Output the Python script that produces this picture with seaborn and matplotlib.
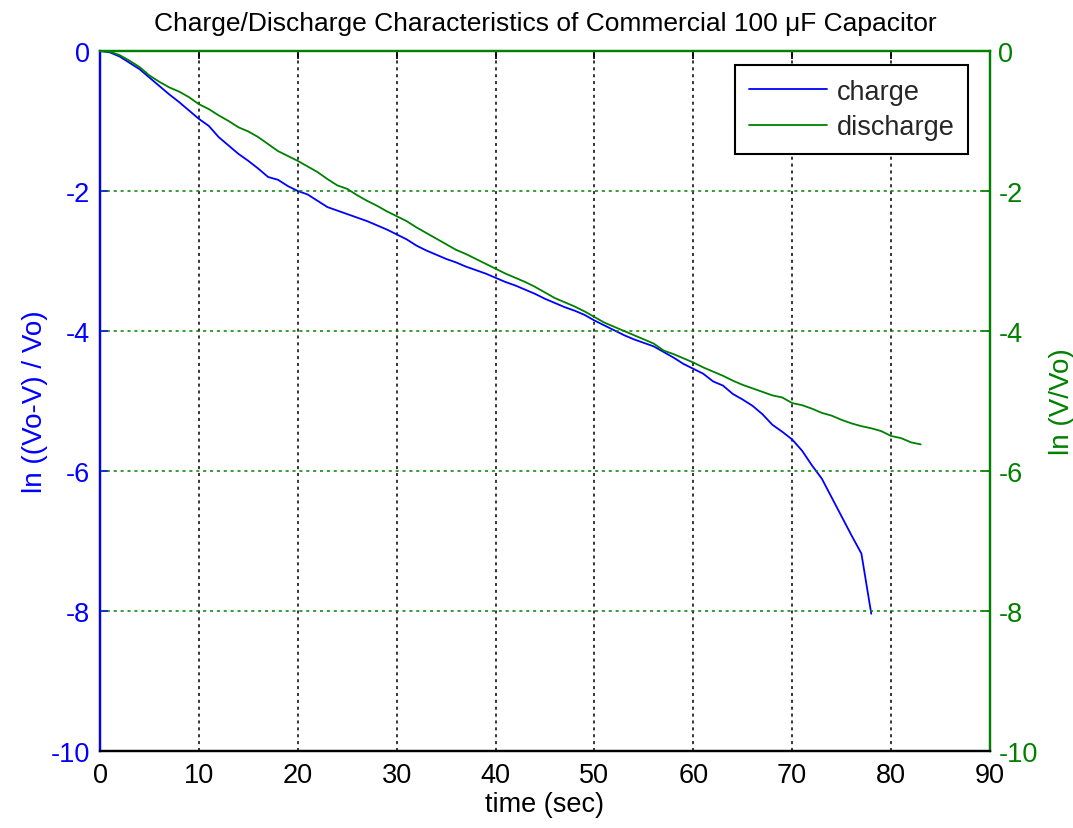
import numpy as np
import pandas as pd
import matplotlib
matplotlib.use("Agg")
import matplotlib.pyplot as plt
import seaborn as sns

# Measured log-ratio curves (one sample per second)
charge_time = list(range(0, 79))
charge_values = [
    0.0, -0.02, -0.08, -0.17, -0.26, -0.38, -0.50, -0.62, -0.73, -0.85,
    -0.97, -1.07, -1.23, -1.35, -1.47, -1.57, -1.68, -1.80, -1.84, -1.93,
    -2.00, -2.05, -2.14, -2.23, -2.28, -2.33, -2.38, -2.43, -2.49, -2.55,
    -2.62, -2.69, -2.78, -2.85, -2.91, -2.97, -3.02, -3.08, -3.13, -3.18,
    -3.24, -3.30, -3.35, -3.41, -3.47, -3.54, -3.60, -3.66, -3.71, -3.77,
    -3.85, -3.92, -3.99, -4.06, -4.12, -4.17, -4.22, -4.30, -4.38, -4.47,
    -4.54, -4.61, -4.72, -4.78, -4.90, -4.98, -5.07, -5.19, -5.34, -5.44,
    -5.55, -5.71, -5.92, -6.11, -6.38, -6.65, -6.92, -7.18, -8.04,
]

discharge_time = list(range(0, 84))
discharge_values = [
    0.0, -0.01, -0.06, -0.14, -0.23, -0.35, -0.44, -0.52, -0.58, -0.66,
    -0.76, -0.83, -0.92, -1.00, -1.09, -1.15, -1.23, -1.33, -1.43, -1.50,
    -1.57, -1.65, -1.73, -1.83, -1.92, -1.97, -2.06, -2.14, -2.21, -2.29,
    -2.36, -2.43, -2.52, -2.60, -2.68, -2.76, -2.84, -2.90, -2.97, -3.04,
    -3.11, -3.18, -3.24, -3.30, -3.37, -3.45, -3.53, -3.59, -3.65, -3.72,
    -3.80, -3.88, -3.94, -4.00, -4.06, -4.12, -4.18, -4.28, -4.33, -4.39,
    -4.45, -4.52, -4.58, -4.64, -4.71, -4.77, -4.82, -4.87, -4.92, -4.95,
    -5.03, -5.06, -5.11, -5.17, -5.21, -5.27, -5.32, -5.36, -5.39, -5.43,
    -5.50, -5.53, -5.59, -5.62,
]

x_ticks = [0, 10, 20, 30, 40, 50, 60, 70, 80, 90]
y_ticks = [-10, -8, -6, -4, -2, 0]

BLUE = "#0000ff"
GREEN = "#008000"

sns.set_theme(style="white")
plt.rcParams["font.family"] = ["Liberation Sans", "DejaVu Sans"]

charge_df = pd.DataFrame({"t": charge_time, "v": charge_values})
discharge_df = pd.DataFrame({"t": discharge_time, "v": discharge_values})

fig = plt.figure(figsize=(10.73, 8.29), dpi=100)
ax = fig.add_axes([0.0932, 0.0929, 0.8294, 0.8444])
ax2 = ax.twinx()

sns.lineplot(data=charge_df, x="t", y="v", ax=ax, color=BLUE, lw=1.3,
             label="charge", legend=False)
sns.lineplot(data=discharge_df, x="t", y="v", ax=ax2, color=GREEN, lw=1.3,
             label="discharge", legend=False)

for a in (ax, ax2):
    a.set_xlim(0, 90)
    a.set_ylim(-10, 0)
    a.set_yticks(y_ticks)
    a.set_facecolor("none")

TICK_FS = 19.5
ax.set_xticks(x_ticks)
ax.tick_params(axis="x", direction="in", length=6, colors="black",
               labelsize=TICK_FS, pad=8, top=True)
ax.tick_params(axis="y", direction="in", length=6, colors=BLUE,
               labelsize=TICK_FS, pad=7)
ax2.tick_params(axis="y", direction="in", length=6, colors=GREEN,
                labelsize=TICK_FS, pad=6)
ax.set_yticklabels([str(v) for v in y_ticks])
ax2.set_yticklabels([str(v) for v in y_ticks])

# Vertical grid from the time axis, horizontal grid from the right axis
ax.grid(axis="x", color="black", linestyle=(0, (2, 2.5)), lw=1.1)
ax.grid(axis="y", visible=False)
ax2.grid(axis="y", color=GREEN, linestyle=(0, (2, 2.5)), lw=1.1)
ax2.grid(axis="x", visible=False)

for side, col in (("left", BLUE), ("bottom", "black"), ("top", GREEN), ("right", GREEN)):
    ax.spines[side].set_color(col)
    ax.spines[side].set_linewidth(1.6)
    ax2.spines[side].set_color(col)
    ax2.spines[side].set_linewidth(1.6)

ax.set_xlabel("time (sec)", fontsize=19.5, color="black", labelpad=2)
ax.set_ylabel("ln ((Vo-V) / Vo)", fontsize=20, color=BLUE, labelpad=2)
ax2.set_ylabel("ln (V/Vo)", fontsize=20, color=GREEN, labelpad=8)
ax.set_title("Charge/Discharge Characteristics of Commercial 100 \u03bcF Capacitor",
             fontsize=19, color="black", pad=15)

handles = ax.get_lines()[:1] + ax2.get_lines()[:1]
leg = ax2.legend(handles, ["charge", "discharge"], loc="upper right",
                 bbox_to_anchor=(0.9753, 0.98), borderaxespad=0,
                 fontsize=19.5, frameon=True,
                 fancybox=False, edgecolor="black", framealpha=1,
                 handlelength=2.9, borderpad=0.5, labelspacing=0.35,
                 handletextpad=0.35)
leg.get_frame().set_linewidth(1.5)

fig.savefig("out.png", dpi=100, facecolor="white")
